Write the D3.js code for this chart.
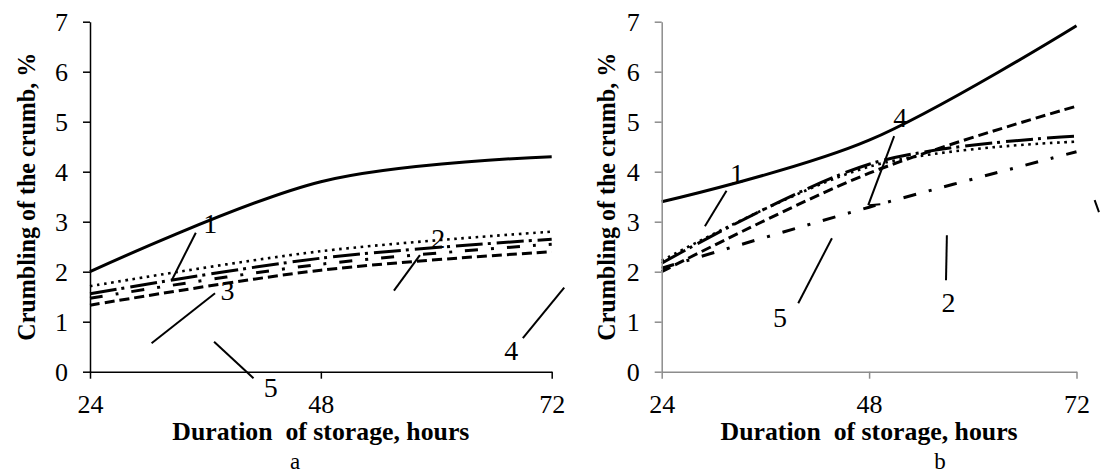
<!DOCTYPE html>
<html><head><meta charset="utf-8">
<script src="https://cdn.jsdelivr.net/npm/d3@7"></script>
<style>
html,body{margin:0;padding:0;background:#fff;}
svg{display:block;}
text{font-family:"Liberation Serif","Times New Roman",serif;}
</style></head>
<body>
<svg id="chart" width="1102" height="473"></svg>
<script>
// ---------- data ----------
const hours = [24, 48, 72];
const yTicks = [0, 1, 2, 3, 4, 5, 6, 7];
const xTicks = [24, 48, 72];
const xTitle = "Duration\u00a0\u00a0of storage, hours";
const yTitle = "Crumbling of the crumb, %";
const panelLabels = ["a", "b"];

// panel a series
const aSolid       = [2.00, 3.80, 4.30];
const aDotted      = [1.71, 2.41, 2.80];
const aLongDashDot = [1.56, 2.27, 2.65];
const aDashDot     = [1.47, 2.15, 2.55];
const aDashed      = [1.33, 2.03, 2.40];
// panel b series
const bSolid       = [3.40, 4.63, 6.92];
const bDotted      = [2.22, 4.10, 4.60];
const bLongDashDot = [2.17, 4.15, 4.71];
const bDashed      = [2.00, 3.97, 5.31];
const bDashDot     = [2.07, 3.29, 4.40];

// annotations: label text, label position, leader from -> to (data coords)
const aNotes = [
  {t:"1", lx:36.5, ly:2.97, x1:35.0, y1:2.78, x2:32.5, y2:1.83},
  {t:"3", lx:38.3, ly:1.63, x1:37.0, y1:1.57, x2:30.4, y2:0.57},
  {t:"5", lx:42.8, ly:-0.30, x1:36.9, y1:0.60, x2:41.0, y2:-0.13},
  {t:"2", lx:60.2, ly:2.67, x1:58.3, y1:2.33, x2:55.6, y2:1.62},
  {t:"4", lx:67.8, ly:0.43, x1:69.0, y1:0.67, x2:73.3, y2:1.68}
];
const bNotes = [
  {t:"1", lx:32.7, ly:3.97, x1:31.5, y1:3.62, x2:29.0, y2:2.91},
  {t:"4", lx:51.6, ly:5.10, x1:50.9, y1:4.71, x2:47.9, y2:3.33},
  {t:"5", lx:37.7, ly:1.10, x1:43.7, y1:2.67, x2:39.8, y2:1.37},
  {t:"2", lx:57.2, ly:1.40, x1:57.0, y1:2.73, x2:56.9, y2:1.83}
];
const bExtra = [{x1:48.0, y1:3.33, x2:49.3, y2:3.35}, {x1:74.1, y1:3.43, x2:74.6, y2:3.19}];

// ---------- styles ----------
const styles = {
  solid:       {w:3,   dash:null},
  dotted:      {w:2.6, dash:"2.6,4.6"},
  longDashDot: {w:3,   dash:"27,5,3,6"},
  dashDot:     {w:3,   dash:"13,13,3,13"},
  dashed:      {w:3,   dash:"10,5"}
};

const panels = [
  {x0:90, x1:551.7, axisColor:"#000", titleX:35, label:"a", labelX:295,
   series:[["solid",aSolid],["dotted",aDotted],["longDashDot",aLongDashDot],["dashDot",aDashDot],["dashed",aDashed]],
   notes:aNotes, extra:[]},
  {x0:661.7, x1:1076.5, axisColor:"#8c8c8c", titleX:615, label:"b", labelX:940,
   series:[["solid",bSolid],["dotted",bDotted],["longDashDot",bLongDashDot],["dashDot",bDashDot],["dashed",bDashed]],
   notes:bNotes, extra:bExtra}
];

const svg = d3.select("#chart");
const yTop = 21.7, yBot = 371.7;

panels.forEach((p, i) => {
  const x = d3.scaleLinear().domain([24, 72]).range([p.x0, p.x1]);
  const y = d3.scaleLinear().domain([0, 7]).range([yBot, yTop]);
  const g = svg.append("g");

  const line = d3.line().x((d, k) => x(hours[k])).y(d => y(d)).curve(d3.curveCardinal.tension(0));
  p.series.forEach(([st, vals]) => {
    const s = styles[st];
    g.append("path").datum(vals).attr("d", line)
      .attr("fill", "none").attr("stroke", "#000")
      .attr("stroke-width", s.w)
      .attr("stroke-dasharray", s.dash)
      .attr("stroke-linecap", "butt");
  });

  const yAx = g.append("g").attr("transform", `translate(${p.x0},0)`)
    .call(d3.axisLeft(y).tickValues(yTicks).tickFormat(d3.format("d")).tickSize(7).tickSizeOuter(0).tickPadding(15));
  const xAx = g.append("g").attr("transform", `translate(0,${yBot})`)
    .call(d3.axisBottom(x).tickValues(xTicks).tickFormat(d3.format("d")).tickSize(7).tickSizeOuter(0).tickPadding(16));
  [yAx, xAx].forEach(ax => {
    ax.selectAll("path,line").attr("stroke", p.axisColor).attr("stroke-width", 1.5);
    ax.selectAll("text").attr("fill", "#000").style("font-size", "26px")
      .style("font-family", "'Liberation Serif','Times New Roman',serif");
  });

  g.append("text").text(xTitle)
    .attr("x", x(48)).attr("y", 440).attr("text-anchor", "middle")
    .attr("textLength", 297).attr("lengthAdjust", "spacingAndGlyphs")
    .style("font-size", "25px").style("font-weight", "bold");
  g.append("text").text(yTitle)
    .attr("transform", `translate(${p.titleX},${y(3.5)}) rotate(-90)`)
    .attr("text-anchor", "middle")
    .attr("textLength", 288).attr("lengthAdjust", "spacingAndGlyphs")
    .style("font-size", "25px").style("font-weight", "bold");
  g.append("text").text(p.label).attr("x", p.labelX).attr("y", 469)
    .attr("text-anchor", "middle").style("font-size", "23px");

  p.notes.forEach(n => {
    g.append("line").attr("x1", x(n.x1)).attr("y1", y(n.y1)).attr("x2", x(n.x2)).attr("y2", y(n.y2))
      .attr("stroke", "#000").attr("stroke-width", 2);
    g.append("text").text(n.t).attr("x", x(n.lx)).attr("y", y(n.ly))
      .attr("text-anchor", "middle").attr("dy", "0.35em").style("font-size", "28px");
  });
  p.extra.forEach(n => {
    g.append("line").attr("x1", x(n.x1)).attr("y1", y(n.y1)).attr("x2", x(n.x2)).attr("y2", y(n.y2))
      .attr("stroke", "#000").attr("stroke-width", 2);
  });
});
</script>
</body></html>
